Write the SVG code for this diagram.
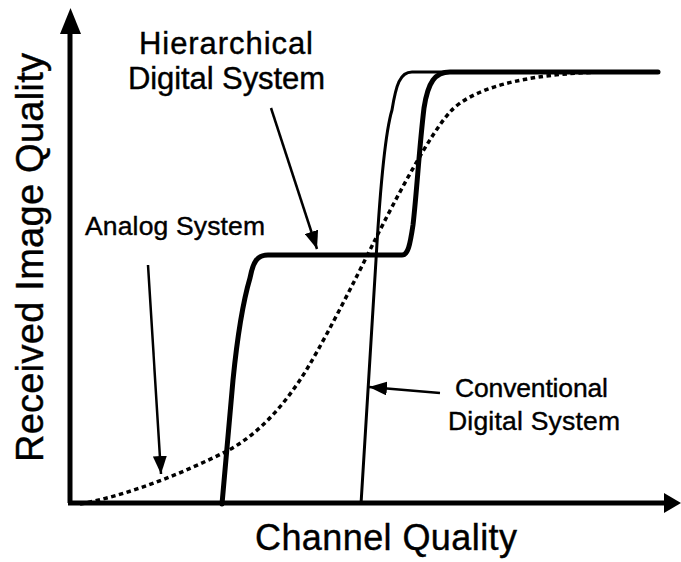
<svg xmlns="http://www.w3.org/2000/svg" width="681" height="562" viewBox="0 0 681 562">
<style>
  text { font-family: "Liberation Sans", Arial, Helvetica, sans-serif; fill: #000; stroke: #000; stroke-width: 0.4; }
  .lbl { font-size: 26.5px; text-anchor: middle; }
  .big { font-size: 31px; text-anchor: middle; }
  .axis { stroke: #000; stroke-width: 5; fill: none; }
  .thick { stroke: #000; stroke-width: 5; fill: none; stroke-linejoin: round; stroke-linecap: round; }
  .thin { stroke: #000; stroke-width: 3; fill: none; stroke-linejoin: round; }
  .dots { stroke: #000; stroke-width: 3.5; fill: none; stroke-dasharray: 4.5 3.5; }
  .ptr { stroke: #000; stroke-width: 2.5; fill: none; marker-end: url(#ah); }
</style>
<defs>
  <marker id="ah" markerUnits="userSpaceOnUse" markerWidth="18" markerHeight="14" refX="18" refY="7" orient="auto">
    <path d="M0,0 L18,7 L0,14 z" fill="#000"/>
  </marker>
</defs>
<rect width="681" height="562" fill="#fff"/>

<g id="axes">
  <line class="axis" x1="70" y1="503" x2="70" y2="28"/>
  <polygon points="70.5,8 60,34 81,34" fill="#000"/>
  <line class="axis" x1="68" y1="503" x2="666" y2="503"/>
  <polygon points="681,503 664,493 664,513" fill="#000"/>
</g>

<g id="curves">
  <path id="analog-curve" class="dots" d="M80,504 C130,495 185,472 225,452 C255,437 280,410 300,380 C320,350 355,280 375,240 C395,200 430,134 450,112 C470,90 520,73 610,72"/>
  <path id="conventional-curve" class="thin" d="M361,504 L376,260 C380,190 386,130 392,110 C396,85 400,72 412,72 L450,72"/>
  <path id="hierarchical-curve" class="thick" d="M222,504 L233,380 C238,330 245,295 250,278 C253,262 257,255 268,255 L402,255 C408,255 410,245 413,225 C417,190 419,150 424,108 C428,82 435,72 450,72 L658,72"/>
</g>

<g id="y-axis-label">
  <text transform="translate(43,257.5) rotate(-90)" x="0" y="0" style="font-size:38px;text-anchor:middle" textLength="409">Received Image Quality</text>
</g>
<g id="x-axis-label">
  <text x="386" y="550" style="font-size:36px;text-anchor:middle" textLength="262">Channel Quality</text>
</g>

<g id="hierarchical-label">
  <text class="big" x="226" y="54" textLength="174">Hierarchical</text>
  <text class="big" x="226.5" y="89" textLength="197">Digital System</text>
</g>
<g id="analog-label">
  <text class="lbl" x="175" y="235" textLength="180">Analog System</text>
</g>
<g id="conventional-label">
  <text class="lbl" x="531.5" y="397" textLength="153">Conventional</text>
  <text class="lbl" x="534" y="430" textLength="172">Digital System</text>
</g>

<g id="connectors">
  <line class="ptr" x1="271" y1="108" x2="317" y2="249"/>
  <line class="ptr" x1="148" y1="265" x2="161" y2="474"/>
  <line class="ptr" x1="440" y1="393" x2="369" y2="387"/>
</g>
</svg>
